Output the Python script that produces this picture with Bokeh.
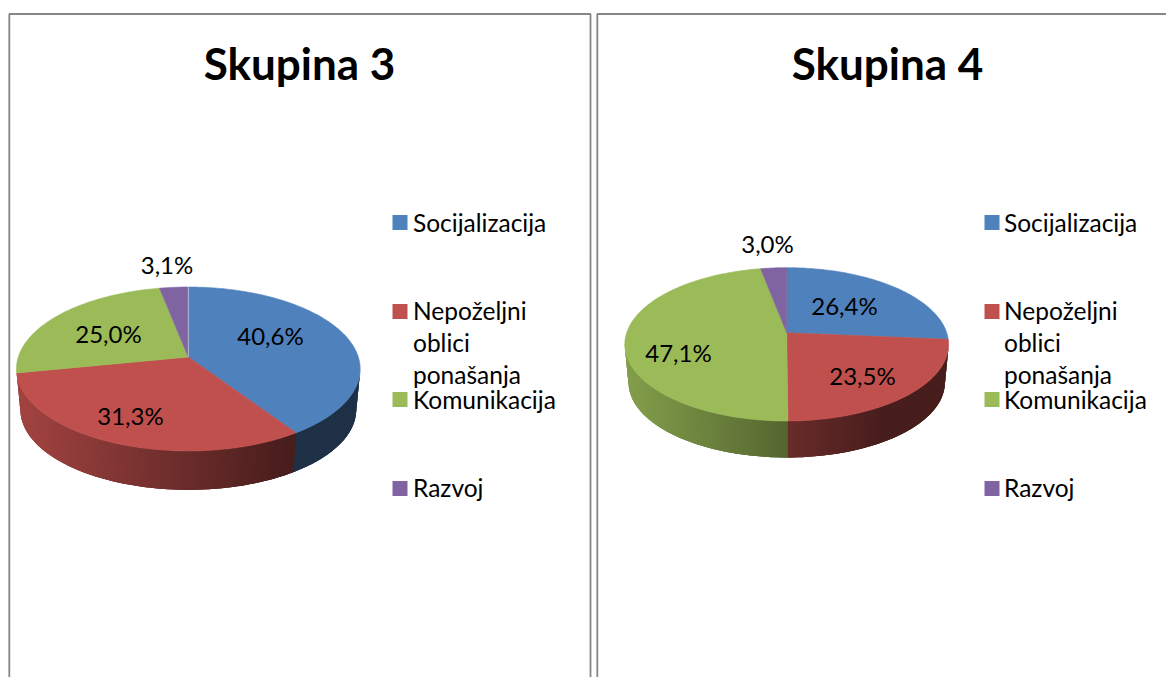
import math
from bokeh.embed import file_html
from bokeh.resources import INLINE
from bokeh.plotting import figure
from bokeh.layouts import row
from bokeh.core.properties import value

categories = ["Socijalizacija", "Nepoželjni oblici ponašanja", "Komunikacija", "Razvoj"]
legend_lines = [["Socijalizacija"], ["Nepoželjni", "oblici", "ponašanja"], ["Komunikacija"], ["Razvoj"]]
titles = ["Skupina 3", "Skupina 4"]
skupina3 = [40.6, 31.3, 25.0, 3.1]
skupina4 = [26.4, 23.5, 47.1, 3.0]
colors = ["#4F81BD", "#C0504D", "#9BBB59", "#8064A2"]

FONT = "Lato"
BORDER = "#868686"
PAGE_H = 677


def rgb(hexs, f):
    return "#%02x%02x%02x" % tuple(int(int(hexs[i:i + 2], 16) * f) for i in (1, 3, 5))


def make_panel(title, vals, x0, x1, border_left, border_right, geom, title_x, label_pos, legend_sq_x, legend_txt_x, seam):
    p = figure(width=x1 - x0, height=PAGE_H, output_backend="svg", toolbar_location=None,
               x_range=(x0, x1), y_range=(PAGE_H, 0), min_border=0,
               x_axis_type="linear", tools="")
    p.axis.visible = False
    p.grid.visible = False
    p.outline_line_color = None
    p.background_fill_color = "white"
    p.border_fill_color = "white"

    # panel frame
    xs = [border_left, border_left, border_right] + ([border_right] if border_right < x1 else [])
    ys = [PAGE_H, 13.5, 13.5] + ([PAGE_H] if border_right < x1 else [])
    p.line(xs, ys, line_color=BORDER, line_width=1.8)

    p.text([title_x], [62.5], text=[title], text_font=value(FONT), text_font_style="bold",
           text_font_size="44px", text_align="center", text_baseline="middle", text_color="#000000")

    cx, cy, a, b, k, drop, shrink = geom
    rx = a / math.sqrt(1 - k * k)

    def rim(theta, s=1.0, dy=0.0):
        X, Y = math.sin(theta), math.cos(theta)
        w = 1 + k * Y
        return cx + s * a * X / w, cy + dy - s * b * Y / w

    edges = [0.0]
    for v in vals:
        edges.append(edges[-1] + v)
    total = edges[-1]
    ang = [2 * math.pi * e / total for e in edges]

    # side wall between the two silhouette tangents, shaded by horizontal position
    lo = math.acos(-k)
    hi = 2 * math.pi - lo
    for e in ang:
        if abs(e - hi) < math.radians(5):
            hi = e
    n = 170
    breaks = sorted(set([lo + (hi - lo) * i / n for i in range(n + 1)] + [e for e in ang if lo < e < hi]))
    for i in range(len(breaks) - 1):
        t0, t1 = breaks[i], breaks[i + 1]
        t2 = breaks[min(i + 3, len(breaks) - 1)]  # overlap the next strips so no seams show
        mid = (t0 + t1) / 2
        idx = next(j for j in range(len(vals)) if ang[j] <= mid <= ang[j + 1])
        p0, p1, p2 = rim(t0), rim(t1), rim(t2)
        q2, q1, q0 = rim(t2, shrink, drop), rim(t1, shrink, drop), rim(t0, shrink, drop)
        frac = ((p0[0] + p1[0]) / 2 - (cx - rx)) / (2 * rx)
        f = max(0.38, 0.85 - 0.6 * frac)
        col = rgb(colors[idx], f)
        p.patch([p0[0], p1[0], p2[0], q2[0], q1[0], q0[0]], [p0[1], p1[1], p2[1], q2[1], q1[1], q0[1]],
                fill_color=col, line_color=None)

    # top face
    for j in range(len(vals)):
        steps = max(2, int(math.degrees(ang[j + 1] - ang[j])))
        pts = [rim(ang[j] + (ang[j + 1] - ang[j]) * s / steps) for s in range(steps + 1)]
        p.patch([cx] + [q[0] for q in pts], [cy] + [q[1] for q in pts],
                fill_color=colors[j], line_color=colors[j], line_width=0.6)
    if seam:
        top = rim(0.0)
        p.line([cx, top[0]], [cy, top[1]], line_color="#c4d2e4", line_width=0.8)

    # data labels
    for v, (lx, ly) in zip(vals, label_pos):
        p.text([lx], [ly], text=[f"{v:.1f}%".replace(".", ",")], text_font=value(FONT),
               text_font_size="24px", text_align="center", text_baseline="middle", text_color="#000000")

    # legend
    for lines, col, sq_y, line_ys in zip(legend_lines, colors, [222, 311, 399, 488],
                                         [[221.5], [309.5, 341.5, 373.5], [398.5], [486.5]]):
        p.rect([legend_sq_x], [sq_y], width=15, height=15, fill_color=col, line_color=None)
        for s, y in zip(lines, line_ys):
            p.text([legend_txt_x], [y], text=[s], text_font=value(FONT), text_font_size="24.5px",
                   text_align="left", text_baseline="middle", text_color="#000000")
    return p


left = make_panel(titles[0], skupina3, 0, 593, 8.8, 590, 
                  (187.8, 356.5, 170, 80.2, 0.1463, 41, 0.977), 299,
                  [(270, 335), (130, 414.5), (108, 333), (166.5, 264)], 399.5, 412.5, True)
right = make_panel(titles[1], skupina4, 593, 1166, 596.8, 1166,
                   (786.2, 332.2, 160, 74.9, 0.152, 38.5, 0.977), 887,
                   [(844, 305), (862, 375), (678, 352), (767, 242.5)], 991.5, 1003.5, False)

page = row(left, right, spacing=0)
open("out.html", "w").write(file_html(page, INLINE))
